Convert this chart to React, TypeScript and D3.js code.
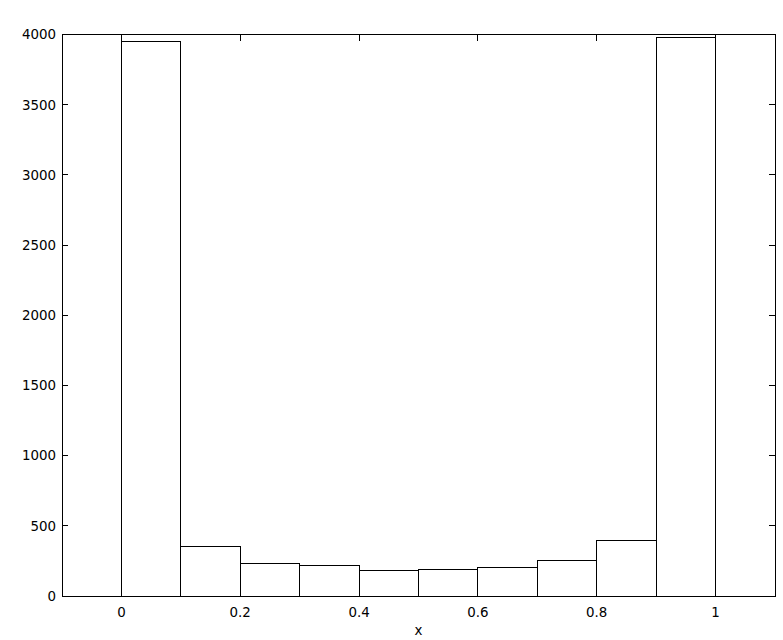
import React from "react";
import * as d3 from "d3";

// histogram bins (left edges) and counts
const binStarts = [0, 0.1, 0.2, 0.3, 0.4, 0.5, 0.6, 0.7, 0.8, 0.9];
const counts = [3953, 356, 233, 219, 183, 190, 204, 254, 397, 3981];
const binWidth = 0.1;
const xTicks = [0, 0.2, 0.4, 0.6, 0.8, 1];
const yTicks = [0, 500, 1000, 1500, 2000, 2500, 3000, 3500, 4000];

export default function App() {
	const width = 783;
	const height = 640;
	const marginTop = 34.5;
	const marginRight = 8;
	const marginBottom = 44;
	const marginLeft = 62;
	const tickLen = 6;
	const font = "'DejaVu Sans', sans-serif";

	const x = d3
		.scaleLinear()
		.domain([-0.1, 1.1])
		.range([marginLeft, width - marginRight]);

	const y = d3
		.scaleLinear()
		.domain([0, 4000])
		.range([height - marginBottom, marginTop]);

	const x0 = x.range()[0];
	const x1 = x.range()[1];
	const y0 = y.range()[0];
	const y1 = y.range()[1];

	return (
		<svg
			width={width}
			height={height}
			style={{ position: "absolute", left: 0, top: 0, background: "#fff" }}
		>
			<g shapeRendering="crispEdges">
				{/* bars */}
				<g fill="#fff" stroke="#000" strokeWidth={1}>
					{binStarts.map((b, i) => (
						<rect
							key={i}
							x={x(b)}
							y={y(counts[i])}
							width={x(b + binWidth) - x(b)}
							height={y(0) - y(counts[i])}
						/>
					))}
				</g>

				{/* frame */}
				<rect
					x={x0}
					y={y1}
					width={x1 - x0}
					height={y0 - y1}
					fill="none"
					stroke="#000"
					strokeWidth={1}
				/>

				{/* x ticks, top and bottom, pointing inward */}
				<g stroke="#000" strokeWidth={1}>
					{xTicks.map((t) => (
						<g key={t}>
							<line x1={x(t)} x2={x(t)} y1={y1} y2={y1 + tickLen} />
							<line x1={x(t)} x2={x(t)} y1={y0} y2={y0 - tickLen} />
						</g>
					))}
				</g>

				{/* y ticks, left and right, pointing inward */}
				<g stroke="#000" strokeWidth={1}>
					{yTicks.map((t) => (
						<g key={t}>
							<line x1={x0} x2={x0 + tickLen} y1={y(t)} y2={y(t)} />
							<line x1={x1} x2={x1 - tickLen} y1={y(t)} y2={y(t)} />
						</g>
					))}
				</g>
			</g>

			{/* tick labels */}
			<g fontFamily={font} fontSize={13.4} fill="#000">
				{xTicks.map((t) => (
					<text key={t} x={x(t)} y={y0 + 21} textAnchor="middle">
						{d3.format("~g")(t)}
					</text>
				))}
				{yTicks.map((t) => (
					<text
						key={t}
						x={x0 - 6}
						y={y(t)}
						dy="0.36em"
						textAnchor="end"
					>
						{t}
					</text>
				))}
			</g>

			{/* axis label */}
			<text
				x={(x0 + x1) / 2}
				y={y0 + 39}
				textAnchor="middle"
				fontFamily={font}
				fontSize={13.4}
			>
				x
			</text>
		</svg>
	);
}
